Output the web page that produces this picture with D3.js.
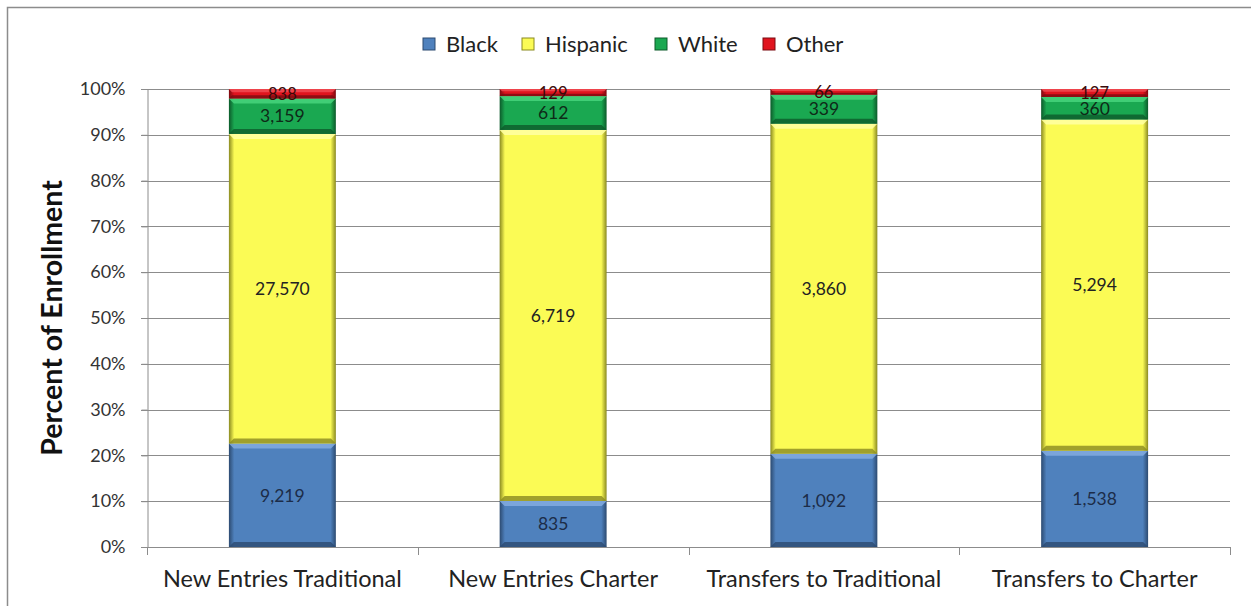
<!DOCTYPE html>
<html>
<head>
<meta charset="utf-8">
<script src="https://cdn.jsdelivr.net/npm/d3@7"></script>
<style>
  body { margin: 0; background: #fff; }
  svg { display: block; }
  text { font-family: "Lato", "Open Sans", sans-serif; }
</style>
</head>
<body>
<svg id="chart" width="1251" height="606"></svg>
<script>
// datos
const categories = ["New Entries Traditional", "New Entries Charter", "Transfers to Traditional", "Transfers to Charter"];
const groups = ["Black", "Hispanic", "White", "Other"];
const black    = [9219, 835, 1092, 1538];
const hispanic = [27570, 6719, 3860, 5294];
const white    = [3159, 612, 339, 360];
const other    = [838, 129, 66, 127];
const yTicks = [0, 0.1, 0.2, 0.3, 0.4, 0.5, 0.6, 0.7, 0.8, 0.9, 1];

const colors = { Black: "#4f81bd", Hispanic: "#fbfb55", White: "#1aa851", Other: "#e0141e" };
const dark   = { Black: "#2c4a70", Hispanic: "#8a8a20", White: "#0c5a2a", Other: "#7a0a10" };
const light  = { Black: "#7fa8de", Hispanic: "#ffffa0", White: "#45d27a", Other: "#f04850" };
const labelColor = { Black: "#1c2c48", Hispanic: "#222", White: "#0e2a18", Other: "#3a0a0a" };

const series = { Black: black, Hispanic: hispanic, White: white, Other: other };
const rows = categories.map((c, i) => {
  const r = { cat: c };
  groups.forEach(g => r[g] = series[g][i]);
  r.total = groups.reduce((s, g) => s + r[g], 0);
  return r;
});

const svg = d3.select("#chart");
const margin = { left: 147, right: 21, top: 89, bottom: 59 };
const W = 1251, H = 606;

// marco
svg.append("rect").attr("x", 7.5).attr("y", 7.5).attr("width", 1260).attr("height", 620)
  .attr("fill", "none").attr("stroke", "#8c8c8c").attr("stroke-width", 1.5);

const x = d3.scaleBand().domain(categories).range([margin.left, W - margin.right]).paddingInner(0.605).paddingOuter(0.3025);
const y = d3.scaleLinear().domain([0, 1]).range([H - margin.bottom, margin.top]);

// gradientes tipo bisel
const defs = svg.append("defs");
groups.forEach(g => {
  const gr = defs.append("linearGradient").attr("id", "h-" + g).attr("x1", 0).attr("x2", 1).attr("y1", 0).attr("y2", 0);
  gr.append("stop").attr("offset", "0%").attr("stop-color", dark[g]);
  gr.append("stop").attr("offset", "5%").attr("stop-color", colors[g]);
  gr.append("stop").attr("offset", "95%").attr("stop-color", colors[g]);
  gr.append("stop").attr("offset", "100%").attr("stop-color", dark[g]);
});

// rejilla
svg.append("g").selectAll("line").data(yTicks).join("line")
  .attr("x1", margin.left - 6).attr("x2", W - margin.right)
  .attr("y1", d => Math.round(y(d)) + 0.5).attr("y2", d => Math.round(y(d)) + 0.5)
  .attr("stroke", "#8c8c8c").attr("stroke-width", 1);

// eje y
const yAxis = svg.append("g").attr("transform", `translate(${margin.left + 0.5},0)`)
  .call(d3.axisLeft(y).tickValues(yTicks).tickFormat(d3.format(".0%")).tickSize(6).tickPadding(16));
yAxis.select(".domain").attr("stroke", "#8c8c8c");
yAxis.selectAll(".tick line").attr("stroke", "#8c8c8c");
yAxis.selectAll(".tick text").attr("font-size", 18).attr("fill", "#333").attr("font-family", "Lato, sans-serif");

// barras apiladas
const stack = d3.stack().keys(groups).value((d, k) => d[k] / d.total);
const layers = stack(rows);

const bars = svg.append("g");
layers.forEach(layer => {
  const g = layer.key;
  layer.forEach(seg => {
    const x0 = x(seg.data.cat), bw = x.bandwidth();
    const yt = y(seg[1]), yb = y(seg[0]);
    const h = yb - yt;
    bars.append("rect").attr("x", x0).attr("y", yt).attr("width", bw).attr("height", h)
      .attr("fill", `url(#h-${g})`);
    // bisel superior e inferior
    const bev = Math.min(5, h / 3);
    bars.append("polygon")
      .attr("points", `${x0},${yt} ${x0 + bw},${yt} ${x0 + bw - bev},${yt + bev} ${x0 + bev},${yt + bev}`)
      .attr("fill", light[g]).attr("opacity", 0.9);
    bars.append("polygon")
      .attr("points", `${x0},${yb} ${x0 + bw},${yb} ${x0 + bw - bev},${yb - bev} ${x0 + bev},${yb - bev}`)
      .attr("fill", dark[g]).attr("opacity", 0.8);
    bars.append("text")
      .attr("x", x0 + bw / 2).attr("y", (yt + yb) / 2)
      .attr("dy", "0.36em").attr("text-anchor", "middle")
      .attr("font-size", h < 20 ? 16.5 : 17.5).attr("fill", labelColor[g])
      .text(d3.format(",")(seg.data[g]));
  });
});

// eje x
const xAxisY = y(0);
svg.append("line").attr("x1", margin.left).attr("x2", W - margin.right)
  .attr("y1", Math.round(xAxisY) + 0.5).attr("y2", Math.round(xAxisY) + 0.5).attr("stroke", "#8c8c8c");
const step = x.step();
const bounds = d3.range(categories.length + 1).map(i => margin.left + i * step);
svg.append("g").selectAll("line").data(bounds).join("line")
  .attr("x1", d => Math.round(d) + 0.5).attr("x2", d => Math.round(d) + 0.5)
  .attr("y1", xAxisY).attr("y2", xAxisY + 8).attr("stroke", "#8c8c8c");
svg.append("g").selectAll("text").data(categories).join("text")
  .attr("x", d => x(d) + x.bandwidth() / 2).attr("y", 587)
  .attr("text-anchor", "middle").attr("font-size", 23.5).attr("fill", "#222")
  .text(d => d);

// título eje y
svg.append("text").attr("transform", `translate(62,${(y(0) + y(1)) / 2}) rotate(-90)`)
  .attr("text-anchor", "middle").attr("font-size", 28.5).attr("font-weight", "bold").attr("fill", "#111")
  .text("Percent of Enrollment");

// leyenda
const legendX = [423, 522, 655, 763];
const legend = svg.append("g");
groups.forEach((g, i) => {
  legend.append("rect").attr("x", legendX[i]).attr("y", 38).attr("width", 12).attr("height", 12)
    .attr("fill", colors[g]).attr("stroke", dark[g]).attr("stroke-width", 1);
  legend.append("text").attr("x", legendX[i] + 23).attr("y", 44).attr("dy", "0.36em")
    .attr("font-size", 22).attr("fill", "#222").text(g);
});
</script>
</body>
</html>
